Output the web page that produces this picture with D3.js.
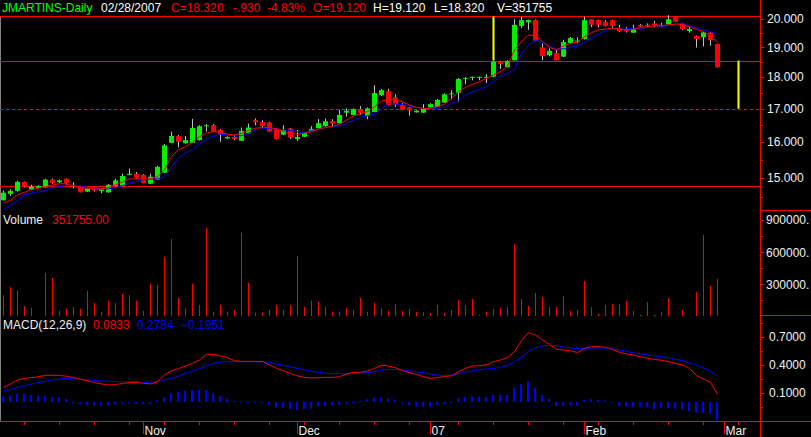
<!DOCTYPE html>
<html><head><meta charset="utf-8">
<script src="https://cdn.jsdelivr.net/npm/d3@7"></script>
<style>body{margin:0;background:#000;overflow:hidden}svg{display:block}</style>
</head><body>
<script>
// ---------- DATA ----------
const firstDay = "2006-10-04";
const holidays = ["2006-12-25","2006-12-26","2007-01-01"];
const openP  = [14.40,14.57,14.65,14.89,14.69,14.73,14.74,14.95,14.88,14.97,14.81,14.78,14.63,14.74,14.65,14.61,14.78,14.78,15.08,15.11,15.08,14.84,14.95,15.14,15.98,16.18,15.97,15.98,16.06,16.47,16.50,16.36,16.11,16.15,16.04,16.26,16.65,16.59,16.58,16.40,16.22,16.40,16.09,16.16,16.33,16.41,16.47,16.62,16.56,16.88,16.81,16.99,16.78,16.90,17.42,17.55,17.35,17.11,17.04,16.89,16.88,17.04,17.06,17.19,17.47,17.50,17.95,17.98,17.99,18.00,18.02,18.51,18.33,18.56,19.75,19.88,19.96,19.00,18.73,18.81,18.68,19.15,19.20,19.29,19.99,19.96,19.90,19.96,19.67,19.64,19.51,19.79,19.79,19.84,19.76,19.81,20.08,19.84,19.57,19.39,19.35,19.51,19.12];
const highP  = [14.66,14.69,14.92,14.90,14.81,14.80,14.97,14.98,14.95,14.98,14.88,14.78,14.72,14.75,14.72,14.83,14.97,15.11,15.25,15.16,15.10,15.11,15.33,15.95,16.31,16.21,16.18,16.69,16.50,16.53,16.53,16.38,16.17,16.21,16.43,16.55,16.70,16.65,16.60,16.42,16.50,16.42,16.36,16.30,16.47,16.68,16.70,16.68,16.96,17.01,17.01,17.08,17.04,17.74,17.62,17.62,17.45,17.17,17.06,16.96,17.14,17.17,17.30,17.48,17.58,17.97,18.00,18.02,18.02,18.10,18.53,18.53,18.56,19.99,20.08,19.98,19.98,19.15,18.96,18.91,19.26,19.36,19.35,20.08,20.00,19.98,19.96,19.98,19.79,19.72,19.79,19.82,19.84,19.93,19.87,20.14,20.09,19.86,19.72,19.41,19.54,19.53,19.12];
const lowP   = [14.40,14.52,14.63,14.74,14.68,14.72,14.74,14.84,14.86,14.81,14.72,14.61,14.62,14.63,14.59,14.60,14.77,14.77,15.07,14.97,14.85,14.83,14.94,15.13,15.97,15.85,15.96,15.97,16.05,16.31,16.30,16.01,16.10,16.06,16.03,16.25,16.50,16.43,16.30,16.08,16.21,16.09,16.04,16.15,16.32,16.40,16.46,16.45,16.55,16.76,16.80,16.81,16.68,16.89,17.40,17.10,17.06,16.95,16.79,16.88,16.87,17.03,17.05,17.18,17.29,17.22,17.77,17.90,17.90,17.81,18.00,18.27,18.32,18.55,19.67,19.61,19.21,18.56,18.69,18.55,18.67,19.13,19.14,19.27,19.71,19.70,19.73,19.67,19.53,19.52,19.50,19.71,19.71,19.71,19.70,19.80,19.89,19.61,19.51,18.99,19.03,19.06,18.32];
const closeP = [14.60,14.65,14.89,14.76,14.76,14.78,14.95,14.86,14.93,14.86,14.81,14.61,14.71,14.66,14.71,14.81,14.93,15.05,15.11,15.00,14.86,15.03,15.30,15.91,16.18,16.01,16.06,16.42,16.47,16.50,16.31,16.23,16.15,16.09,16.33,16.43,16.59,16.47,16.31,16.09,16.36,16.13,16.15,16.28,16.39,16.56,16.62,16.55,16.81,16.94,16.99,16.87,17.01,17.49,17.58,17.11,17.11,16.96,16.94,16.94,17.00,17.14,17.27,17.45,17.48,17.94,17.98,18.01,18.01,18.01,18.51,18.43,18.54,19.79,19.96,19.96,19.22,18.70,18.88,18.56,19.18,19.32,19.23,19.96,19.79,19.79,19.75,19.75,19.55,19.55,19.67,19.73,19.75,19.76,19.72,19.99,19.90,19.64,19.64,19.29,19.52,19.25,18.32];
const volume = [201000,276000,242000,98000,83000,3000,407000,360000,52000,74000,89000,74000,242000,126000,45000,148000,126000,210000,201000,148000,52000,307000,294000,556000,725000,176000,74000,307000,108000,828000,45000,108000,45000,61000,784000,316000,36000,36000,61000,108000,61000,108000,566000,92000,148000,139000,92000,45000,45000,83000,61000,176000,45000,129000,74000,54000,117000,52000,70000,42000,42000,32000,108000,32000,61000,154000,108000,163000,14000,42000,70000,79000,89000,678000,163000,98000,220000,183000,89000,89000,192000,52000,61000,332000,89000,24000,108000,117000,117000,145000,52000,14000,136000,14000,42000,173000,3000,61000,3000,229000,762000,285000,351755];
const maFast = [14.33,14.40,14.55,14.61,14.68,14.72,14.76,14.81,14.84,14.84,14.78,14.74,14.72,14.70,14.70,14.74,14.81,14.89,14.97,14.97,14.97,14.97,15.03,15.22,15.59,15.78,15.87,15.99,16.16,16.26,16.31,16.28,16.23,16.21,16.26,16.34,16.41,16.43,16.43,16.38,16.31,16.26,16.23,16.26,16.31,16.38,16.43,16.47,16.53,16.65,16.78,16.84,16.91,17.06,17.24,17.29,17.27,17.22,17.11,17.04,17.01,17.01,17.06,17.14,17.32,17.53,17.67,17.77,17.85,17.96,18.07,18.18,18.35,18.91,19.20,19.43,19.39,19.20,19.00,18.91,19.05,19.14,19.18,19.37,19.51,19.61,19.64,19.67,19.63,19.61,19.63,19.70,19.72,19.75,19.76,19.79,19.82,19.79,19.72,19.63,19.55,19.39,19.16];
const maSlow = [14.16,14.27,14.37,14.55,14.59,14.62,14.66,14.74,14.76,14.80,14.79,14.78,14.74,14.72,14.70,14.70,14.74,14.79,14.86,14.90,14.95,14.97,14.97,15.03,15.31,15.54,15.69,15.78,15.95,16.08,16.18,16.23,16.21,16.18,16.19,16.26,16.36,16.41,16.41,16.38,16.36,16.34,16.31,16.28,16.34,16.38,16.43,16.45,16.48,16.55,16.65,16.74,16.78,16.84,16.99,17.17,17.14,17.13,17.08,17.04,17.00,17.01,17.01,17.06,17.17,17.25,17.42,17.53,17.60,17.69,17.85,18.04,18.12,18.26,18.79,19.08,19.25,19.14,19.05,18.93,18.95,19.00,19.05,19.18,19.32,19.46,19.58,19.67,19.69,19.67,19.65,19.67,19.69,19.70,19.72,19.77,19.82,19.85,19.76,19.67,19.61,19.55,19.46];
const macd   = [0.158,0.194,0.237,0.254,0.262,0.272,0.287,0.287,0.287,0.276,0.262,0.244,0.229,0.208,0.194,0.183,0.186,0.201,0.208,0.211,0.201,0.194,0.219,0.290,0.337,0.358,0.387,0.416,0.452,0.513,0.513,0.495,0.477,0.444,0.437,0.437,0.437,0.434,0.398,0.362,0.333,0.308,0.280,0.265,0.258,0.262,0.265,0.265,0.272,0.301,0.319,0.319,0.333,0.362,0.394,0.387,0.369,0.337,0.315,0.297,0.272,0.254,0.262,0.276,0.280,0.326,0.362,0.387,0.391,0.398,0.434,0.452,0.477,0.541,0.659,0.746,0.720,0.667,0.620,0.566,0.559,0.552,0.530,0.577,0.595,0.595,0.588,0.566,0.534,0.516,0.505,0.487,0.470,0.459,0.448,0.434,0.416,0.398,0.362,0.283,0.247,0.211,0.0833];
const signal = [0.118,0.136,0.158,0.176,0.194,0.208,0.222,0.237,0.247,0.254,0.254,0.247,0.237,0.229,0.226,0.222,0.219,0.219,0.219,0.219,0.211,0.208,0.219,0.237,0.254,0.280,0.308,0.333,0.358,0.387,0.416,0.430,0.434,0.434,0.434,0.434,0.434,0.434,0.423,0.409,0.394,0.376,0.362,0.344,0.330,0.319,0.308,0.305,0.305,0.305,0.308,0.312,0.315,0.326,0.341,0.351,0.351,0.344,0.337,0.323,0.315,0.301,0.290,0.283,0.287,0.308,0.323,0.333,0.348,0.355,0.362,0.373,0.394,0.434,0.480,0.541,0.584,0.602,0.609,0.606,0.591,0.581,0.573,0.577,0.581,0.581,0.581,0.570,0.559,0.545,0.530,0.516,0.505,0.498,0.487,0.477,0.459,0.444,0.419,0.398,0.366,0.330,0.2784];
const histo  = [0.065,0.068,0.086,0.086,0.075,0.068,0.065,0.054,0.054,0.032,-0.007,-0.025,-0.036,-0.039,-0.039,-0.036,-0.025,-0.018,-0.014,-0.022,-0.022,-0.018,0.018,0.050,0.093,0.108,0.118,0.129,0.129,0.129,0.093,0.065,0.036,0.011,0.003,0.003,0.004,-0.004,-0.029,-0.061,-0.068,-0.075,-0.086,-0.075,-0.068,-0.050,-0.043,-0.032,-0.032,-0.018,-0.007,0.014,0.029,0.050,0.050,0.036,0.022,-0.014,-0.032,-0.050,-0.050,-0.050,-0.032,-0.022,-0.004,0.039,0.054,0.057,0.057,0.054,0.075,0.075,0.075,0.154,0.194,0.219,0.154,0.075,0.032,-0.043,-0.039,-0.032,-0.039,0.022,0.029,0.022,0.014,0.004,-0.039,-0.050,-0.057,-0.057,-0.061,-0.075,-0.068,-0.068,-0.072,-0.079,-0.097,-0.111,-0.118,-0.129,-0.1951];
const levels = [20.10, 18.55, 17.00, 14.77];          // horizontal lines
const levelDashed = [false, false, true, false];
const projections = [{day:70, from:20.10, to:18.55}, {day:105, from:18.55, to:17.00}]; // yellow lines
const monthTickDates = ["2006-11-01","2006-12-01","2007-01-02","2007-02-01","2007-03-01"];
const monthLabels = ["Nov","Dec","07","Feb","Mar"];
const priceTicks = [15,16,17,18,19,20];
const priceMinor = [14.5,15.5,16.5,17.5,18.5,19.5];
const volTicks = [300000,600000,900000];
const volMinor = [150000,450000,750000];
const macdTicks = [0.1,0.4,0.7];
const macdMinor = [-0.05,0.25,0.55,0.85];
const header = [
  {t:"JMARTINS-Daily", x:2, c:"#00ff00"},
  {t:"02/28/2007", x:101, c:"#ffffff"},
  {t:"C=18.320", x:171, c:"#ff0000"},
  {t:"-.930", x:233, c:"#ff0000"},
  {t:"-4.83%", x:267, c:"#ff0000"},
  {t:"O=19.120", x:313, c:"#ff0000"},
  {t:"H=19.120", x:373, c:"#ffffff"},
  {t:"L=18.320", x:434, c:"#ffffff"},
  {t:"V=351755", x:497, c:"#ffffff"}
];

// ---------- CALENDAR ----------
const parse = d3.timeParse("%Y-%m-%d"), fmt = d3.timeFormat("%Y-%m-%d");
const days = [];
{
  let d = parse(firstDay);
  while (days.length < 112) {
    const wd = d.getDay();
    if (wd !== 0 && wd !== 6 && !holidays.includes(fmt(d))) days.push(new Date(d));
    d = d3.timeDay.offset(d, 1);
  }
}
const dayIndex = s => days.findIndex(d => fmt(d) === s);

// ---------- LAYOUT ----------
const W = 811, H = 437, AX = 760.5;
const font = "'Liberation Sans', Arial, sans-serif";
const svg = d3.select("body").append("svg").attr("width", W).attr("height", H)
  .style("font-family", font).style("font-size", "12px");
svg.append("rect").attr("width", W).attr("height", H).attr("fill", "#000");

const x = d3.scaleLinear().domain([0, 1]).range([3.5, 10.5]);
const yP = d3.scaleLog().domain([15, 20]).range([177.8, 19]);
const yV = d3.scaleLinear().domain([0, 900000]).range([316.5, 220.2]);
const yM = d3.scaleLinear().domain([0, 0.7]).range([402, 336.9]);
const n = closeP.length;
const idx = d3.range(n);

// frame lines
svg.append("line").attr("x1", 0.5).attr("x2", 0.5).attr("y1", 17).attr("y2", 421).attr("stroke", "#808080");
svg.append("line").attr("x1", AX).attr("x2", AX).attr("y1", 0).attr("y2", H).attr("stroke", "#ff0000");
svg.append("line").attr("x1", 0).attr("x2", W).attr("y1", 421.5).attr("y2", 421.5).attr("stroke", "#ff0000");
[210.5, 315.5].forEach(yy => svg.append("line").attr("x1", AX).attr("x2", W).attr("y1", yy).attr("y2", yy).attr("stroke", "#ff0000"));

// horizontal levels
levels.forEach((v, k) => {
  const yy = Math.round(yP(v)) + 0.5;
  svg.append("line").attr("x1", 0).attr("x2", AX).attr("y1", yy).attr("y2", yy)
    .attr("stroke", "#ff0000").attr("stroke-width", 1)
    .attr("stroke-dasharray", levelDashed[k] ? "3,3" : null);
});
projections.forEach(p => {
  svg.append("line").attr("x1", x(p.day)).attr("x2", x(p.day))
    .attr("y1", yP(p.from)).attr("y2", yP(p.to)).attr("stroke", "#ffff00").attr("stroke-width", 2);
});

// candles
const cg = svg.append("g");
cg.selectAll("line.w").data(idx).join("line")
  .attr("x1", i => x(i)).attr("x2", i => x(i))
  .attr("y1", i => yP(highP[i])).attr("y2", i => yP(lowP[i]))
  .attr("stroke", "#c0c0c0");
cg.selectAll("rect.b").data(idx).join("rect")
  .attr("x", i => x(i) - 2.5).attr("width", 5)
  .attr("y", i => yP(Math.max(openP[i], closeP[i])))
  .attr("height", i => Math.max(1, yP(Math.min(openP[i], closeP[i])) - yP(Math.max(openP[i], closeP[i]))))
  .attr("fill", i => closeP[i] >= openP[i] ? "#00f000" : "#ff0000");

// moving averages
const lineP = arr => d3.line().x((d, i) => x(i)).y(d => yP(d))(arr);
svg.append("path").attr("d", lineP(maSlow)).attr("fill", "none").attr("stroke", "#0000ff");
svg.append("path").attr("d", lineP(maFast)).attr("fill", "none").attr("stroke", "#ff0000");

// volume
svg.append("g").selectAll("line").data(idx).join("line")
  .attr("x1", i => x(i)).attr("x2", i => x(i))
  .attr("y1", 316).attr("y2", i => yV(volume[i]))
  .attr("stroke", "#ff0000");

// MACD
svg.append("g").selectAll("rect").data(idx).join("rect")
  .attr("x", i => x(i) - 1.5).attr("width", 2)
  .attr("y", i => Math.min(yM(0), yM(histo[i])))
  .attr("height", i => Math.max(1, Math.abs(yM(histo[i]) - yM(0))))
  .attr("fill", "#0000ff");
const lineM = arr => d3.line().x((d, i) => x(i)).y(d => yM(d))(arr);
svg.append("path").attr("d", lineM(signal)).attr("fill", "none").attr("stroke", "#0000ff");
svg.append("path").attr("d", lineM(macd)).attr("fill", "none").attr("stroke", "#ff0000");

// right axis ticks & labels
function rightTicks(scale, major, minor, f, lx) {
  major.forEach(v => {
    const yy = Math.round(scale(v)) + 0.5;
    svg.append("line").attr("x1", AX).attr("x2", AX + 4).attr("y1", yy).attr("y2", yy).attr("stroke", "#ff0000");
    svg.append("text").attr("x", lx).attr("y", scale(v)).attr("dy", "0.35em").attr("fill", "#f0f0f0").text(f(v));
  });
  minor.forEach(v => {
    const yy = Math.round(scale(v)) + 0.5;
    svg.append("line").attr("x1", AX).attr("x2", AX + 2.5).attr("y1", yy).attr("y2", yy).attr("stroke", "#ff0000");
  });
}
rightTicks(yP, priceTicks, priceMinor, d3.format(".3f"), 767);
rightTicks(yV, volTicks, volMinor, v => d3.format("d")(v) + ".", 766);
rightTicks(yM, macdTicks, macdMinor, d3.format(".4f"), 769);

// bottom axis ticks
const monthIdx = monthTickDates.map(dayIndex);
const weekIdx = [];
days.forEach((d, i) => {
  if (i === 0) return;
  if (d3.timeMonday.floor(d).getTime() !== d3.timeMonday.floor(days[i - 1]).getTime()) weekIdx.push(i);
});
weekIdx.filter(i => !monthIdx.includes(i) && x(i) < AX).forEach(i => {
  svg.append("line").attr("x1", x(i)).attr("x2", x(i)).attr("y1", 421).attr("y2", 425).attr("stroke", "#ff0000");
});
monthIdx.forEach((i, k) => {
  svg.append("line").attr("x1", x(i)).attr("x2", x(i)).attr("y1", 421).attr("y2", 434).attr("stroke", "#ff0000");
  svg.append("text").attr("x", x(i) + 1).attr("y", 435).attr("fill", "#f0f0f0").text(monthLabels[k]);
});

// header
svg.append("g").selectAll("text").data(header).join("text")
  .attr("x", d => d.x).attr("y", 12).attr("fill", d => d.c).text(d => d.t);

// panel titles
svg.append("text").attr("x", 3).attr("y", 224).attr("fill", "#f0f0f0").text("Volume");
svg.append("text").attr("x", 52).attr("y", 224).attr("fill", "#ff0000").text(d3.format(".2f")(volume[n - 1]));
svg.append("text").attr("x", 3).attr("y", 329).attr("fill", "#f0f0f0").text("MACD(12,26,9)");
svg.append("text").attr("x", 93).attr("y", 329).attr("fill", "#ff0000").text(d3.format(".4f")(macd[n - 1]));
svg.append("text").attr("x", 137).attr("y", 329).attr("fill", "#0000ff").text(d3.format(".4f")(signal[n - 1]));
svg.append("text").attr("x", 181).attr("y", 329).attr("fill", "#0000ff").text(d3.format(".4f")(histo[n - 1]));
</script>
</body></html>
